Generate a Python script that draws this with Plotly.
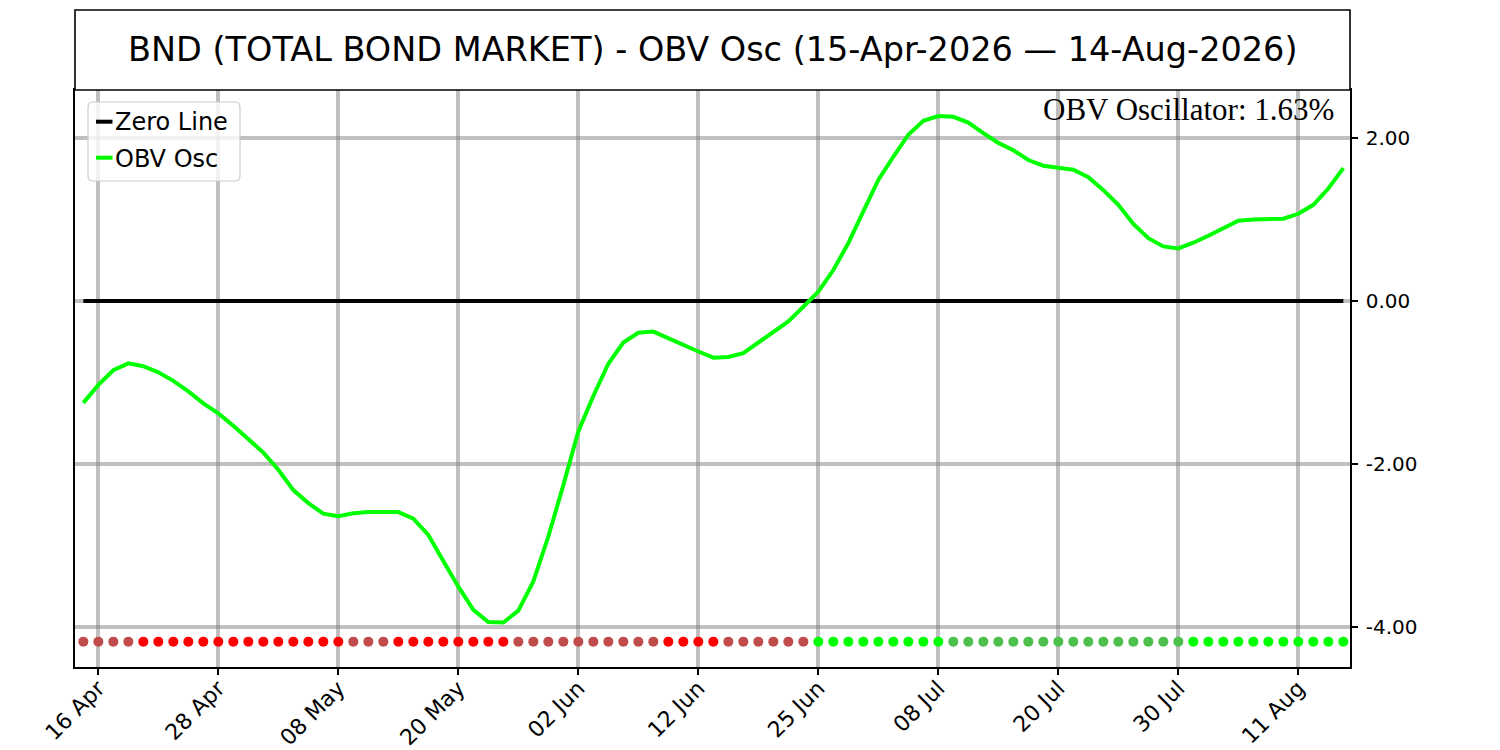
import plotly.graph_objects as go
import pandas as pd

# ---------------- data ----------------
TITLE = "BND (TOTAL BOND MARKET) - OBV Osc (15-Apr-2026 \u2014 14-Aug-2026)"
START_DATE = "2026-04-15"
END_DATE = "2026-08-14"
MARKET_HOLIDAYS = ["2026-05-25", "2026-06-19", "2026-07-03"]

OBV_OSC = [
    -1.25, -1.03, -0.85, -0.765, -0.80, -0.875, -0.98, -1.11, -1.255, -1.38,
    -1.53, -1.70, -1.86, -2.07, -2.32, -2.48, -2.61, -2.64, -2.605, -2.59,
    -2.585, -2.59, -2.67, -2.87, -3.19, -3.505, -3.79, -3.94, -3.945, -3.80,
    -3.44, -2.89, -2.26, -1.60, -1.165, -0.77, -0.51, -0.39, -0.375, -0.46,
    -0.54, -0.62, -0.695, -0.687, -0.64, -0.51, -0.39, -0.25, -0.07, 0.115,
    0.38, 0.71, 1.10, 1.485, 1.77, 2.04, 2.21, 2.27, 2.26, 2.19,
    2.06, 1.94, 1.85, 1.73, 1.66, 1.635, 1.61, 1.52, 1.36, 1.18,
    0.945, 0.77, 0.67, 0.645, 0.715, 0.80, 0.89, 0.985, 1.00, 1.006,
    1.01, 1.07, 1.18, 1.38, 1.63,
]

TICK_LABELS = ["16 Apr", "28 Apr", "08 May", "20 May", "02 Jun", "12 Jun",
               "25 Jun", "08 Jul", "20 Jul", "30 Jul", "11 Aug"]
Y_TICKS = [-4, -2, 0, 2]
Y_TICK_TEXT = ["-4.00", "-2.00", "0.00", "2.00"]
LAST_VALUE_TEXT = "OBV Oscillator: 1.63%"

# ---------------- styles ----------------
FONT = "DejaVu Sans"
GREEN = "#00ff00"
DULL_GREEN = "#4cbf4c"
RED = "#ff0000"
DULL_RED = "#bf4b4b"
GRID = "rgba(128,128,128,0.5)"
DOT_LEVEL = -4.18

dates = pd.bdate_range(START_DATE, END_DATE)
dates = dates[~dates.isin(pd.to_datetime(MARKET_HOLIDAYS))]
labels = [d.strftime("%d %b") for d in dates]
x = list(range(len(OBV_OSC)))
tickvals = [labels.index(t) for t in TICK_LABELS]

# state colours: sign of oscillator and direction of change
dot_colors = []
for i, v in enumerate(OBV_OSC):
    if i == 0:
        d = OBV_OSC[1] - OBV_OSC[0]
    else:
        d = v - OBV_OSC[i - 1]
    if v >= 0:
        dot_colors.append(GREEN if d > 0 else DULL_GREEN)
    else:
        dot_colors.append(DULL_RED if d > 0 else RED)

fig = go.Figure()

fig.add_trace(go.Scatter(
    x=x, y=[0] * len(x), mode="lines", name="Zero Line",
    line=dict(color="black", width=4), hoverinfo="skip", showlegend=False,
))
fig.add_trace(go.Scatter(
    x=x, y=OBV_OSC, mode="lines", name="OBV Osc",
    line=dict(color=GREEN, width=4), showlegend=False,
))
fig.add_trace(go.Scatter(
    x=x, y=[DOT_LEVEL] * len(x), mode="markers", name="state",
    marker=dict(color=dot_colors, size=10, line=dict(width=0)),
    showlegend=False,
))

# page offset of the figure (body margin) is 8px; target plot area in page px:
# x 75..1350, y 90..667
OFF = 8
W, H = 1500 - OFF, 750 - OFF
L, T = 75 - OFF, 90 - OFF
pw, ph = 1275, 577
R = W - L - pw
B = H - T - ph

def px_x(p):
    return (p - OFF - L) / pw

def px_y(p):
    return (T + ph - (p - OFF)) / ph

shapes = []
# title box
shapes.append(dict(type="rect", xref="paper", yref="paper",
                   x0=0, x1=1, y0=1, y1=px_y(10),
                   line=dict(color="black", width=1.6), fillcolor="white",
                   layer="above"))
# legend frame (rounded), pixel-sized around its centre
lw, lh, r = 152, 79, 5
hw, hh = lw / 2, lh / 2
path = (f"M {-hw + r},{-hh} L {hw - r},{-hh} Q {hw},{-hh} {hw},{-hh + r} "
        f"L {hw},{hh - r} Q {hw},{hh} {hw - r},{hh} L {-hw + r},{hh} "
        f"Q {-hw},{hh} {-hw},{hh - r} L {-hw},{-hh + r} Q {-hw},{-hh} {-hw + r},{-hh} Z")
shapes.append(dict(type="path", xref="paper", yref="paper",
                   xsizemode="pixel", ysizemode="pixel",
                   xanchor=px_x(164), yanchor=px_y(141.5), path=path,
                   line=dict(color="rgba(204,204,204,1)", width=1.2),
                   fillcolor="rgba(255,255,255,0.8)", layer="above"))
# legend handles
shapes.append(dict(type="line", xref="paper", yref="paper",
                   x0=px_x(96), x1=px_x(112.5), y0=px_y(121.7), y1=px_y(121.7),
                   line=dict(color="black", width=4), layer="above"))
shapes.append(dict(type="line", xref="paper", yref="paper",
                   x0=px_x(96), x1=px_x(112.5), y0=px_y(157.7), y1=px_y(157.7),
                   line=dict(color=GREEN, width=4), layer="above"))

annotations = [
    dict(text=TITLE, xref="paper", yref="paper", x=0.5, y=px_y(50),
         xanchor="center", yanchor="middle", showarrow=False,
         font=dict(family=FONT, size=33.5, color="black")),
    dict(text="Zero Line", xref="paper", yref="paper", x=px_x(112.5), y=px_y(122),
         xanchor="left", yanchor="middle", showarrow=False,
         font=dict(family=FONT, size=24, color="black")),
    dict(text="OBV Osc", xref="paper", yref="paper", x=px_x(112.5), y=px_y(158.5),
         xanchor="left", yanchor="middle", showarrow=False,
         font=dict(family=FONT, size=24, color="black")),
    dict(text=LAST_VALUE_TEXT, xref="paper", yref="paper", x=px_x(1336), y=px_y(109),
         xanchor="right", yanchor="middle", showarrow=False,
         font=dict(family="Liberation Serif", size=31, color="black")),
]

fig.update_layout(
    width=W, height=H,
    margin=dict(l=L, r=R, t=T, b=B, pad=0, autoexpand=False),
    paper_bgcolor="white", plot_bgcolor="white",
    showlegend=False,
    shapes=shapes, annotations=annotations,
    font=dict(family=FONT, color="black"),
)
fig.update_xaxes(
    range=[-0.555, 84.445], tickmode="array", tickvals=tickvals, ticktext=TICK_LABELS,
    tickangle=-45, ticks="outside", ticklen=6, tickwidth=1.5, tickcolor="black",
    tickfont=dict(family=FONT, size=22, color="black"), automargin=False,
    ticklabelstandoff=-8,
    showgrid=True, gridcolor=GRID, gridwidth=4, zeroline=False,
    showline=True, linecolor="black", linewidth=1.5, mirror=True,
)
fig.update_yaxes(
    range=[-4.491, 2.589], side="right", tickmode="array", tickvals=Y_TICKS,
    ticktext=Y_TICK_TEXT, ticks="outside", ticklen=6, tickwidth=1.5, tickcolor="black",
    tickfont=dict(family=FONT, size=20, color="black"), ticklabelstandoff=4,
    automargin=False,
    showgrid=True, gridcolor=GRID, gridwidth=4, zeroline=False,
    showline=True, linecolor="black", linewidth=1.5, mirror=True,
)

fig.write_html("out.html")
